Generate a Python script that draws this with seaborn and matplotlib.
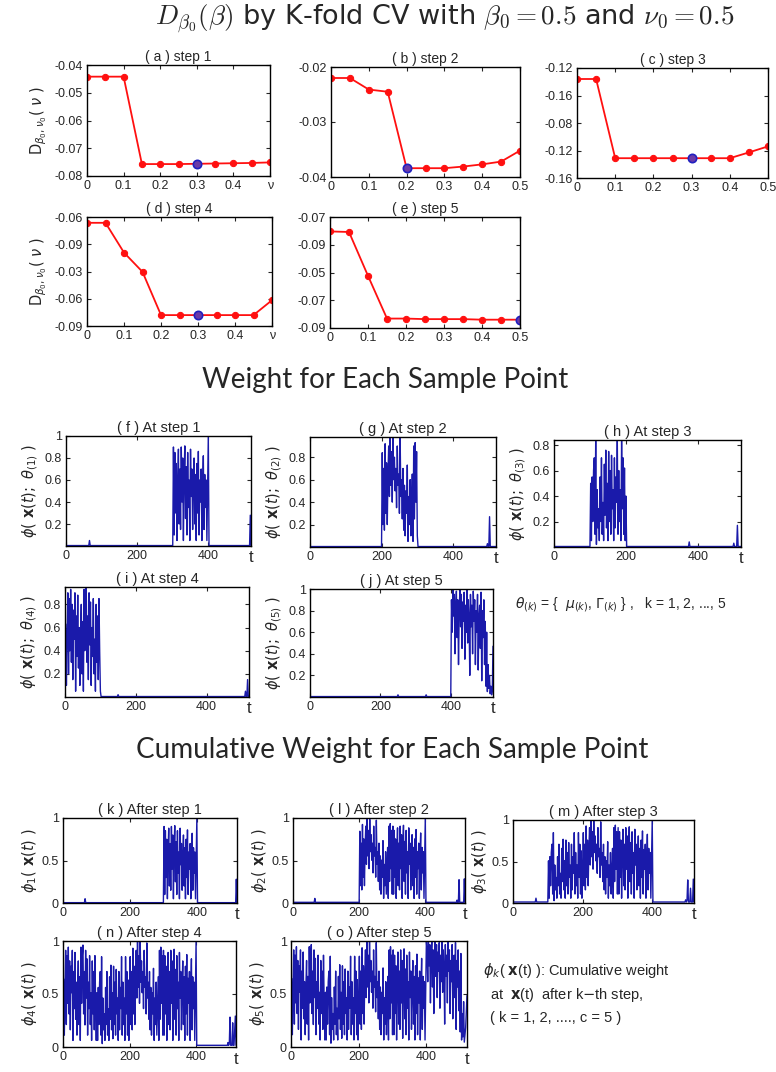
import numpy as np
import matplotlib
matplotlib.use("Agg")
import matplotlib.pyplot as plt
import seaborn as sns

# ---- data: D(nu) curves for each step ----
nu = [0.0, 0.05, 0.1, 0.15, 0.2, 0.25, 0.3, 0.35, 0.4, 0.45, 0.5]
d_step1 = [-0.0442, -0.0442, -0.0442, -0.0757, -0.0757, -0.0757, -0.0756, -0.0755, -0.0754, -0.0753, -0.0751]
d_step2 = [-0.0220, -0.0220, -0.0241, -0.0245, -0.0384, -0.0384, -0.0384, -0.0381, -0.0377, -0.0372, -0.0352]
d_step3 = [-0.1240, -0.1240, -0.1528, -0.1528, -0.1528, -0.1528, -0.1528, -0.1528, -0.1528, -0.1507, -0.1485]
d_step4 = [-0.0616, -0.0616, -0.0698, -0.0751, -0.0870, -0.0870, -0.0870, -0.0870, -0.0870, -0.0870, -0.0829]
d_step5 = [-0.0726, -0.0727, -0.0806, -0.0883, -0.0883, -0.0884, -0.0884, -0.0884, -0.0885, -0.0885, -0.0885]
best_nu = [0.3, 0.2, 0.3, 0.3, 0.5]
d_titles = ["( a ) step 1", "( b ) step 2", "( c ) step 3", "( d ) step 4", "( e ) step 5"]
d_ylims = [(-0.08, -0.04), (-0.04, -0.02), (-0.16, -0.12), (-0.09, -0.06), (-0.09, -0.07)]
d_yticklabels = [
    ["-0.08", "-0.07", "-0.06", "-0.05", "-0.04"],
    ["-0.04", "-0.03", "-0.02"],
    ["-0.16", "-0.12", "-0.08", "-0.16", "-0.12"],
    ["-0.09", "-0.06", "-0.03", "-0.09", "-0.06"],
    ["-0.09", "-0.07", "-0.05", "-0.09", "-0.07"],
]
d_xticklabels = [
    ["0", "0.1", "0.2", "0.3", "0.4", "\u03bd"],
    ["0", "0.1", "0.2", "0.3", "0.4", "0.5"],
    ["0", "0.1", "0.2", "0.3", "0.4", "0.5"],
    ["0", "0.1", "0.2", "0.3", "0.4", "\u03bd"],
    ["0", "0.1", "0.2", "0.3", "0.4", "0.5"],
]

# ---- data: sample weights (t = 2, 4, ..., 520) ----
t = np.arange(2, 521, 2)
block_step1 = [0.90, 0.10, 0.85, 0.30, 0.75, 0.05, 0.60, 0.88, 0.20, 0.70, 0.15, 0.90, 0.40, 0.80, 0.05, 0.65, 0.91,
               0.25, 0.72, 0.10, 0.85, 0.35, 0.60, 0.05, 0.88, 0.45, 0.70, 0.15, 0.55, 0.80, 0.20, 0.65, 0.05, 0.75,
               0.30, 0.86, 0.10, 0.60, 0.40, 0.70, 0.05, 0.55, 0.82, 0.15, 0.65, 0.35, 0.60, 0.05, 0.50, 1.00]
block_step2 = [0.84, 0.20, 0.70, 0.15, 0.92, 0.30, 0.75, 0.20, 0.65, 0.90, 0.45, 0.98, 0.55, 0.85, 0.40, 0.98, 0.60,
               0.80, 0.50, 0.70, 0.35, 0.90, 0.55, 0.65, 0.30, 0.97, 0.45, 0.60, 0.25, 0.70, 0.15, 0.55, 0.10, 0.50,
               0.30, 0.73, 0.05, 0.45, 0.20, 0.60, 0.10, 0.40, 0.65, 0.05, 0.90, 0.25, 0.93, 0.40, 0.85, 0.10]
block_step3 = [0.50, 0.05, 0.55, 0.20, 0.60, 0.70, 0.10, 0.84, 0.02, 0.45, 0.15, 0.30, 0.05, 0.55, 0.20, 0.70, 0.10,
               0.35, 0.05, 0.65, 0.25, 0.76, 0.15, 0.50, 0.05, 0.75, 0.20, 0.60, 0.10, 0.72, 0.30, 0.45, 0.05, 0.70,
               0.15, 0.55, 0.35, 0.84, 0.10, 0.60, 0.20, 0.45, 0.05, 0.84, 0.30, 0.70, 0.10, 0.62, 0.05, 0.40]
block_step4 = [0.63, 0.10, 0.55, 0.90, 0.20, 0.85, 0.40, 0.93, 0.30, 0.80, 0.15, 0.75, 0.50, 0.90, 0.05, 0.70, 0.35,
               0.88, 0.25, 0.60, 0.10, 0.55, 0.80, 0.20, 0.65, 0.05, 0.93, 0.40, 0.85, 0.95, 0.30, 0.70, 0.15, 0.90,
               0.45, 0.82, 0.10, 0.60, 0.35, 0.85, 0.20, 0.50, 0.05, 0.80, 0.30, 0.70, 0.15, 0.85, 0.40, 0.05]
block_step5 = [0.90, 0.60, 1.00, 0.75, 0.95, 0.40, 0.85, 0.98, 0.55, 0.90, 0.30, 0.80, 1.00, 0.65, 0.95, 0.45, 0.88,
               0.70, 0.97, 0.35, 0.85, 0.60, 1.00, 0.50, 0.90, 0.75, 0.20, 0.95, 0.65, 0.85, 0.40, 0.98, 0.70, 0.90,
               0.30, 0.80, 0.60, 0.95, 0.25, 0.75, 0.85, 0.45, 0.97, 0.15, 0.80, 0.55, 0.90, 0.30, 0.70, 0.10, 0.60,
               0.05, 0.30, 0.08, 0.20, 0.03, 0.10, 0.02, 0.05, 0.47]
block_start = [302, 202, 102, 2, 402]
blocks = [block_step1, block_step2, block_step3, block_step4, block_step5]
# small isolated weights outside each block: (t, value)
spikes = [
    [(66, 0.05), (518, 0.28)],
    [(496, 0.03), (502, 0.27)],
    [(376, 0.04), (500, 0.03), (510, 0.17)],
    [(150, 0.02), (510, 0.05), (516, 0.15)],
    [(250, 0.02), (330, 0.02)],
]
baseline = 0.004
w_titles = ["( f ) At step 1", "( g ) At step 2", "( h ) At step 3", "( i ) At step 4", "( j ) At step 5"]
w_ytop = [1.0, 0.98, 0.84, 0.95, 1.0]
w_yticks = [[0.2, 0.4, 0.6, 0.8, 1], [0.2, 0.4, 0.6, 0.8], [0.2, 0.4, 0.6, 0.8], [0.2, 0.4, 0.6, 0.8],
            [0.2, 0.4, 0.6, 0.8, 1]]
c_titles = ["( k ) After step 1", "( l ) After step 2", "( m ) After step 3", "( n ) After step 4",
            "( o ) After step 5"]

sns.set_style("ticks")
plt.rcParams["font.family"] = ["Liberation Sans", "DejaVu Sans"]
plt.rcParams["mathtext.fontset"] = "dejavusans"

W, H = 776, 1072
fig = plt.figure(figsize=(W / 100, H / 100), dpi=100)


def box(l, t_, r, b):
    return fig.add_axes([l / W, 1 - b / H, (r - l) / W, (b - t_) / H])


def style(ax):
    ax.tick_params(direction="in", top=True, right=True, length=3, labelsize=9, pad=3)
    for s in ax.spines.values():
        s.set_linewidth(1.0)
        s.set_color("black")


# ---- section 1 ----
fig.text(445 / W, 1 - 19 / H, r"$D_{\beta_0}(\beta)$ by K-fold CV with $\beta_0 = 0.5$ and $\nu_0 = 0.5$",
         ha="center", va="center", fontsize=19.5, math_fontfamily="cm", family="DejaVu Sans")

d_boxes = [(87, 65, 270, 176), (331, 67, 520, 177), (577, 68, 768, 178), (87, 217, 272, 326), (330, 217, 520, 328)]
d_data = [d_step1, d_step2, d_step3, d_step4, d_step5]
for i in range(5):
    ax = box(*d_boxes[i])
    sns.lineplot(x=nu, y=d_data[i], ax=ax, color="#ff1010", linewidth=1.3, marker="o", markersize=4.5,
                 markeredgecolor="#ff1010", estimator=None)
    k = nu.index(best_nu[i])
    ax.plot(nu[k], d_data[i][k], "o", markersize=6, markerfacecolor="#6a3aa8", markeredgecolor="#2020c0",
            markeredgewidth=1.2)
    lo, hi = d_ylims[i]
    ax.set_ylim(lo, hi)
    ax.set_yticks(np.linspace(lo, hi, len(d_yticklabels[i])))
    ax.set_yticklabels(d_yticklabels[i])
    ax.set_xlim(0, 0.5)
    ax.set_xticks(nu[::2])
    ax.set_xticklabels(d_xticklabels[i])
    ax.set_title(d_titles[i], fontsize=10, pad=3)
    style(ax)
    ax.set_xlabel("")
    if i in (0, 3):
        ax.set_ylabel(r"$\mathrm{D}_{\beta_0,\nu_0}(\ \nu\ )$", fontsize=10.5, labelpad=4)
    else:
        ax.set_ylabel("")

# ---- weights ----
weights = []
for i in range(5):
    w = np.full(len(t), baseline)
    s = (block_start[i] - 2) // 2
    w[s:s + len(blocks[i])] = blocks[i]
    for tt, v in spikes[i]:
        w[(tt - 2) // 2] = v
    weights.append(w)
cumulative = np.clip(np.cumsum(weights, axis=0), 0, 1)

line_color = "#1a1aaa"

fig.text(385 / W, 1 - 380 / H, "Weight for Each Sample Point", ha="center", va="center", fontsize=20,
         family="Lato")
w_boxes = [(66, 436, 251, 546), (310, 437, 496, 547), (554, 440, 741, 547), (65, 587, 249, 697),
           (310, 589, 493, 697)]
for i in range(5):
    ax = box(*w_boxes[i])
    sns.lineplot(x=t, y=weights[i], ax=ax, color=line_color, linewidth=1.0, estimator=None)
    ax.set_xlim(0, 520)
    ax.set_ylim(0, w_ytop[i])
    ax.set_xticks([0, 200, 400])
    ax.set_yticks(w_yticks[i])
    ax.set_yticklabels(["%g" % v for v in w_yticks[i]])
    ax.set_title(w_titles[i], fontsize=10.5, pad=3)
    style(ax)
    ax.set_xlabel("")
    ax.set_ylabel(r"$\phi(\ \mathbf{x}(t);\ \theta_{(%d)}\ )$" % (i + 1), fontsize=10.5, labelpad=3)
    ax.text(1.0, -0.04, "t", transform=ax.transAxes, ha="center", va="top", fontsize=12)

fig.text(515 / W, 1 - 604 / H,
         r"$\theta_{(k)}$ = {  $\mu_{(k)}$, $\Gamma_{(k)}$ } ,   k = 1, 2, ..., 5",
         ha="left", va="center", fontsize=10)

# ---- cumulative ----
fig.text(392 / W, 1 - 750 / H, "Cumulative Weight for Each Sample Point", ha="center", va="center",
         fontsize=20, family="Lato")
c_boxes = [(63, 818, 237, 903), (293, 818, 465, 903), (513, 820, 694, 903), (63, 941, 236, 1047),
           (291, 941, 467, 1047)]
for i in range(5):
    ax = box(*c_boxes[i])
    sns.lineplot(x=t, y=cumulative[i], ax=ax, color=line_color, linewidth=1.0, estimator=None)
    ax.set_xlim(0, 520)
    ax.set_ylim(0, 1)
    ax.set_xticks([0, 200, 400])
    ax.set_yticks([0, 0.5, 1])
    ax.set_yticklabels(["0", "0.5", "1"])
    ax.set_title(c_titles[i], fontsize=10.5, pad=3)
    style(ax)
    ax.set_xlabel("")
    ax.set_ylabel(r"$\phi_{%d}(\ \mathbf{x}(t)\ )$" % (i + 1), fontsize=10.5, labelpad=2)
    ax.text(1.0, -0.05, "t", transform=ax.transAxes, ha="center", va="top", fontsize=12)

fig.text(483 / W, 1 - 970 / H, r"$\phi_k$( $\mathbf{x}$(t) ): Cumulative weight", ha="left", va="center",
         fontsize=10.5)
fig.text(490 / W, 1 - 995 / H, r"at  $\mathbf{x}$(t)  after k$-$th step,", ha="left", va="center",
         fontsize=10.5)
fig.text(490 / W, 1 - 1018 / H, "( k = 1, 2, ...., c = 5 )", ha="left", va="center", fontsize=10.5)

fig.savefig("out.png", dpi=100)
